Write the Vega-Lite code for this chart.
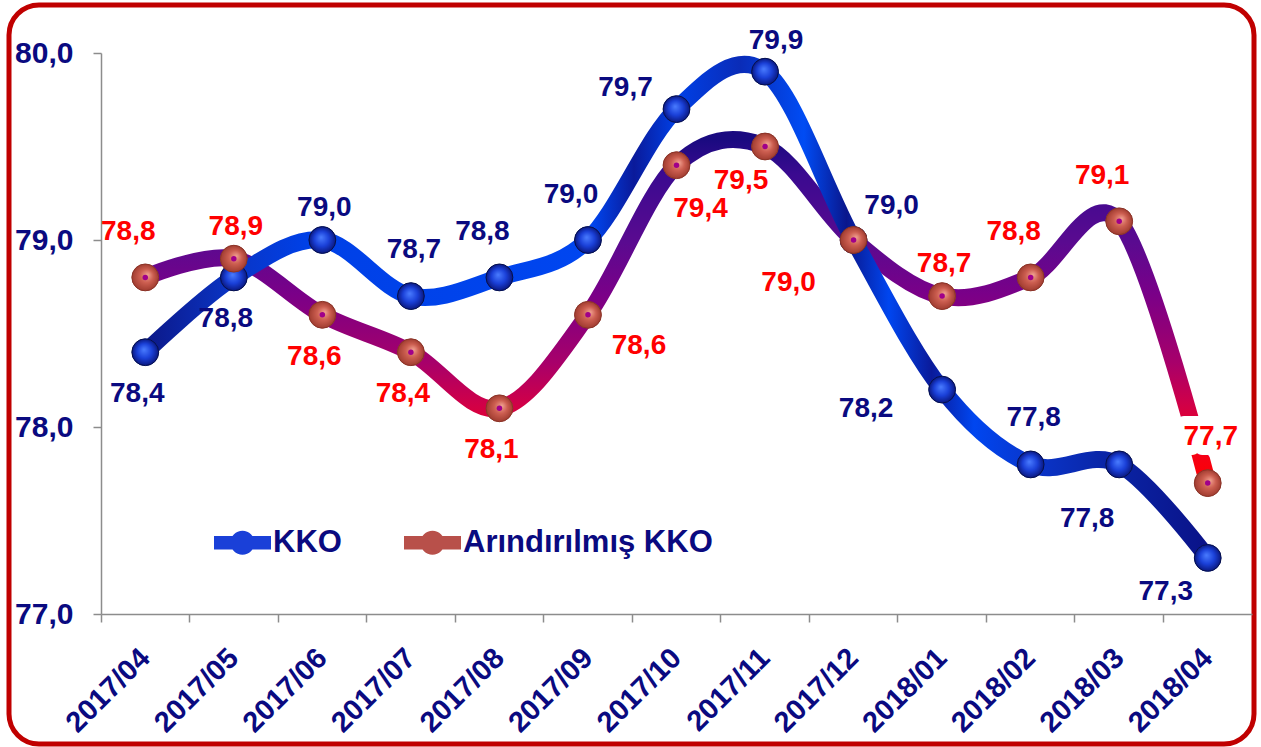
{
  "$schema": "https://vega.github.io/schema/vega-lite/v6.json",
  "autosize": "none",
  "width": 1245,
  "height": 739,
  "padding": {"left": 9, "top": 5, "right": 7, "bottom": 3},
  "background": "white",
  "config": {
    "locale": {"number": {"decimal": ",", "thousands": ".", "grouping": [3], "currency": ["", ""]}},
    "view": {"stroke": "#c00000", "strokeWidth": 5, "cornerRadius": 30, "fill": "white"},
    "font": "Liberation Sans",
    "text": {"font": "Liberation Sans", "fontWeight": "bold", "fontSize": 28}
  },
  "data": {
    "values": [
      {"month": "2017/04", "series": "KKO", "value": 78.4, "pos": "s"},
      {"month": "2017/05", "series": "KKO", "value": 78.8, "pos": "s"},
      {"month": "2017/06", "series": "KKO", "value": 79.0, "pos": "n"},
      {"month": "2017/07", "series": "KKO", "value": 78.7, "pos": "n2"},
      {"month": "2017/08", "series": "KKO", "value": 78.8, "pos": "nl"},
      {"month": "2017/09", "series": "KKO", "value": 79.0, "pos": "nl"},
      {"month": "2017/10", "series": "KKO", "value": 79.7, "pos": "nw"},
      {"month": "2017/11", "series": "KKO", "value": 79.9, "pos": "nr"},
      {"month": "2017/12", "series": "KKO", "value": 79.0, "pos": "ne"},
      {"month": "2018/01", "series": "KKO", "value": 78.2, "pos": "w"},
      {"month": "2018/02", "series": "KKO", "value": 77.8, "pos": "n2"},
      {"month": "2018/03", "series": "KKO", "value": 77.8, "pos": "sw"},
      {"month": "2018/04", "series": "KKO", "value": 77.3, "pos": "sw2"},
      {"month": "2017/04", "series": "Arındırılmış KKO", "value": 78.8, "pos": "nl"},
      {"month": "2017/05", "series": "Arındırılmış KKO", "value": 78.9, "pos": "n"},
      {"month": "2017/06", "series": "Arındırılmış KKO", "value": 78.6, "pos": "s"},
      {"month": "2017/07", "series": "Arındırılmış KKO", "value": 78.4, "pos": "s"},
      {"month": "2017/08", "series": "Arındırılmış KKO", "value": 78.1, "pos": "s"},
      {"month": "2017/09", "series": "Arındırılmış KKO", "value": 78.6, "pos": "e"},
      {"month": "2017/10", "series": "Arındırılmış KKO", "value": 79.4, "pos": "se"},
      {"month": "2017/11", "series": "Arındırılmış KKO", "value": 79.5, "pos": "ssw"},
      {"month": "2017/12", "series": "Arındırılmış KKO", "value": 79.0, "pos": "wsw"},
      {"month": "2018/01", "series": "Arındırılmış KKO", "value": 78.7, "pos": "n"},
      {"month": "2018/02", "series": "Arındırılmış KKO", "value": 78.8, "pos": "nl"},
      {"month": "2018/03", "series": "Arındırılmış KKO", "value": 79.1, "pos": "nl"},
      {"month": "2018/04", "series": "Arındırılmış KKO", "value": 77.7, "pos": "n2"}
    ]
  },
  "encoding": {
    "x": {
      "field": "month", "type": "ordinal", "sort": null,
      "scale": {"type": "band", "range": [92, 1243], "paddingInner": 0, "paddingOuter": 0},
      "axis": {
        "title": null, "orient": "bottom", "offset": -130, "bandPosition": 0, "labelOffset": 0,
        "labelAngle": -45, "labelAlign": "right", "labelBaseline": "middle",
        "labelFont": "Liberation Sans", "labelFontWeight": "bold", "labelFontSize": 29,
        "labelColor": "#0a0a80", "labelPadding": 31, "tickSize": 8, "tickColor": "#8c8c8c",
        "domainColor": "#8c8c8c", "tickWidth": 1.5, "domainWidth": 1.5, "grid": false,
        "labelOverlap": false, "labelBound": false, "labelFlush": false, "labelLimit": 0
      }
    },
    "y": {
      "field": "value", "type": "quantitative",
      "scale": {"domain": [77, 80], "range": [609, 48], "zero": false, "nice": false},
      "axis": {
        "title": null, "offset": -92, "values": [77, 78, 79, 80], "format": ".1f",
        "labelFont": "Liberation Sans", "labelFontWeight": "bold", "labelFontSize": 30,
        "labelColor": "#0a0a80", "labelPadding": 20, "tickSize": 8, "tickColor": "#8c8c8c",
        "domainColor": "#8c8c8c", "tickWidth": 1.5, "domainWidth": 1.5, "grid": false,
        "labelBound": false, "labelFlush": false
      }
    }
  },
  "layer": [
    {
      "transform": [{"filter": "datum.series === 'Arındırılmış KKO'"}],
      "mark": {
        "type": "line", "interpolate": "cardinal", "tension": 0, "strokeWidth": 17, "strokeCap": "round",
        "stroke": {"gradient": "linear", "x1": 0, "y1": 0, "x2": 0, "y2": 1, "stops": [
          {"offset": 0, "color": "#1a0a80"},
          {"offset": 0.1, "color": "#3a0a90"},
          {"offset": 0.3, "color": "#5a0a90"},
          {"offset": 0.45, "color": "#7a0088"},
          {"offset": 0.55, "color": "#900078"},
          {"offset": 0.65, "color": "#a8006a"},
          {"offset": 0.77, "color": "#d00048"},
          {"offset": 0.88, "color": "#f00020"},
          {"offset": 1, "color": "#ff0000"}
        ]}
      },
      "encoding": {}
    },
    {
      "transform": [{"filter": "datum.series === 'KKO'"}],
      "mark": {
        "type": "line", "interpolate": "cardinal", "tension": 0, "strokeWidth": 17, "strokeCap": "round",
        "stroke": {"gradient": "linear", "x1": 0, "y1": 0, "x2": 1, "y2": 0, "stops": [
          {"offset": 0, "color": "#0c1888"},
          {"offset": 0.08, "color": "#0a34c4"},
          {"offset": 0.15, "color": "#0040e6"},
          {"offset": 0.42, "color": "#0046f0"},
          {"offset": 0.46, "color": "#0a1a9a"},
          {"offset": 0.5, "color": "#0040e6"},
          {"offset": 0.56, "color": "#0a2cb8"},
          {"offset": 0.62, "color": "#004cf4"},
          {"offset": 0.66, "color": "#0a168c"},
          {"offset": 0.7, "color": "#0046f0"},
          {"offset": 0.74, "color": "#0a1a9a"},
          {"offset": 0.78, "color": "#0046f0"},
          {"offset": 0.84, "color": "#0a34c8"},
          {"offset": 0.9, "color": "#0a26a8"},
          {"offset": 1, "color": "#0a1288"}
        ]}
      },
      "encoding": {}
    },
    {
      "mark": {"type": "circle", "size": 720, "opacity": 1},
      "encoding": {
        "color": {
          "field": "series", "type": "nominal",
          "scale": {"domain": ["KKO", "Arındırılmış KKO"], "range": ["#1a40d8", "#b8504a"]},
          "legend": {
            "title": null, "orient": "none", "legendX": 205, "legendY": 509, "direction": "horizontal",
            "symbolType": "M-1,-0.24L1,-0.24L1,0.24L-1,0.24Z M0.42,0A0.42,0.42 0 1 1 -0.42,0A0.42,0.42 0 1 1 0.42,0Z",
            "symbolSize": 3249, "symbolStrokeWidth": 0, "symbolOpacity": 1,
            "labelFont": "Liberation Sans", "labelFontWeight": "bold", "labelFontSize": 31,
            "labelColor": "#0a0a80", "labelOffset": 2, "columnPadding": 62, "labelLimit": 0, "padding": 0
          }
        }
      }
    },
    {
      "transform": [{"filter": "datum.series === 'KKO'"}],
      "mark": {
        "type": "circle", "size": 720, "opacity": 1, "stroke": "#06104a", "strokeWidth": 1,
        "fill": {"gradient": "radial", "x1": 0.45, "y1": 0.4, "r1": 0, "x2": 0.5, "y2": 0.5, "r2": 0.5, "stops": [
          {"offset": 0, "color": "#4a7cff"},
          {"offset": 0.55, "color": "#1a40d8"},
          {"offset": 1, "color": "#0a1880"}
        ]}
      }
    },
    {
      "transform": [{"filter": "datum.series === 'Arındırılmış KKO'"}],
      "mark": {
        "type": "circle", "size": 720, "opacity": 1, "stroke": "#8a3428", "strokeWidth": 1,
        "fill": {"gradient": "radial", "x1": 0.6, "y1": 0.4, "r1": 0, "x2": 0.5, "y2": 0.5, "r2": 0.5, "stops": [
          {"offset": 0, "color": "#f0a090"},
          {"offset": 0.5, "color": "#cc5e50"},
          {"offset": 1, "color": "#a03c30"}
        ]}
      }
    },
    {
      "transform": [{"filter": "datum.series === 'Arındırılmış KKO'"}],
      "mark": {"type": "circle", "size": 30, "opacity": 1, "fill": "#a0008a"}
    },
    {
      "transform": [{"filter": "datum.series === 'Arındırılmış KKO' && datum.month === '2018/04'"}],
      "mark": {"type": "text", "dx": 3, "dy": -46, "fill": "white", "stroke": "white", "strokeWidth": 20, "strokeJoin": "round"},
      "encoding": {"text": {"field": "value", "type": "quantitative", "format": ".1f"}}
    },
    {"transform": [{"filter": "datum.pos === 'n'"}], "mark": {"type": "text", "dx": 2, "dy": -32},
      "encoding": {"text": {"field": "value", "type": "quantitative", "format": ".1f"}, "color": {"condition": {"test": "datum.series === 'KKO'", "value": "#0a0a80"}, "value": "#ff0000"}}},
    {"transform": [{"filter": "datum.pos === 'nr'"}], "mark": {"type": "text", "dx": 11, "dy": -31},
      "encoding": {"text": {"field": "value", "type": "quantitative", "format": ".1f"}, "color": {"condition": {"test": "datum.series === 'KKO'", "value": "#0a0a80"}, "value": "#ff0000"}}},
    {"transform": [{"filter": "datum.pos === 'n2'"}], "mark": {"type": "text", "dx": 3, "dy": -46},
      "encoding": {"text": {"field": "value", "type": "quantitative", "format": ".1f"}, "color": {"condition": {"test": "datum.series === 'KKO'", "value": "#0a0a80"}, "value": "#ff0000"}}},
    {"transform": [{"filter": "datum.pos === 'nl'"}], "mark": {"type": "text", "dx": -17, "dy": -45},
      "encoding": {"text": {"field": "value", "type": "quantitative", "format": ".1f"}, "color": {"condition": {"test": "datum.series === 'KKO'", "value": "#0a0a80"}, "value": "#ff0000"}}},
    {"transform": [{"filter": "datum.pos === 's'"}], "mark": {"type": "text", "dx": -8, "dy": 42},
      "encoding": {"text": {"field": "value", "type": "quantitative", "format": ".1f"}, "color": {"condition": {"test": "datum.series === 'KKO'", "value": "#0a0a80"}, "value": "#ff0000"}}},
    {"transform": [{"filter": "datum.pos === 'ssw'"}], "mark": {"type": "text", "dx": -24, "dy": 34},
      "encoding": {"text": {"field": "value", "type": "quantitative", "format": ".1f"}, "color": {"condition": {"test": "datum.series === 'KKO'", "value": "#0a0a80"}, "value": "#ff0000"}}},
    {"transform": [{"filter": "datum.pos === 'sw'"}], "mark": {"type": "text", "dx": -32, "dy": 55},
      "encoding": {"text": {"field": "value", "type": "quantitative", "format": ".1f"}, "color": {"condition": {"test": "datum.series === 'KKO'", "value": "#0a0a80"}, "value": "#ff0000"}}},
    {"transform": [{"filter": "datum.pos === 'sw2'"}], "mark": {"type": "text", "dx": -42, "dy": 34},
      "encoding": {"text": {"field": "value", "type": "quantitative", "format": ".1f"}, "color": {"condition": {"test": "datum.series === 'KKO'", "value": "#0a0a80"}, "value": "#ff0000"}}},
    {"transform": [{"filter": "datum.pos === 'nw'"}], "mark": {"type": "text", "dx": -51, "dy": -21},
      "encoding": {"text": {"field": "value", "type": "quantitative", "format": ".1f"}, "color": {"condition": {"test": "datum.series === 'KKO'", "value": "#0a0a80"}, "value": "#ff0000"}}},
    {"transform": [{"filter": "datum.pos === 'ne'"}], "mark": {"type": "text", "dx": 38, "dy": -34},
      "encoding": {"text": {"field": "value", "type": "quantitative", "format": ".1f"}, "color": {"condition": {"test": "datum.series === 'KKO'", "value": "#0a0a80"}, "value": "#ff0000"}}},
    {"transform": [{"filter": "datum.pos === 'w'"}], "mark": {"type": "text", "dx": -76, "dy": 19},
      "encoding": {"text": {"field": "value", "type": "quantitative", "format": ".1f"}, "color": {"condition": {"test": "datum.series === 'KKO'", "value": "#0a0a80"}, "value": "#ff0000"}}},
    {"transform": [{"filter": "datum.pos === 'wsw'"}], "mark": {"type": "text", "dx": -65, "dy": 43},
      "encoding": {"text": {"field": "value", "type": "quantitative", "format": ".1f"}, "color": {"condition": {"test": "datum.series === 'KKO'", "value": "#0a0a80"}, "value": "#ff0000"}}},
    {"transform": [{"filter": "datum.pos === 'se'"}], "mark": {"type": "text", "dx": 24, "dy": 44},
      "encoding": {"text": {"field": "value", "type": "quantitative", "format": ".1f"}, "color": {"condition": {"test": "datum.series === 'KKO'", "value": "#0a0a80"}, "value": "#ff0000"}}},
    {"transform": [{"filter": "datum.pos === 'e'"}], "mark": {"type": "text", "dx": 51, "dy": 31},
      "encoding": {"text": {"field": "value", "type": "quantitative", "format": ".1f"}, "color": {"condition": {"test": "datum.series === 'KKO'", "value": "#0a0a80"}, "value": "#ff0000"}}}
  ]
}
